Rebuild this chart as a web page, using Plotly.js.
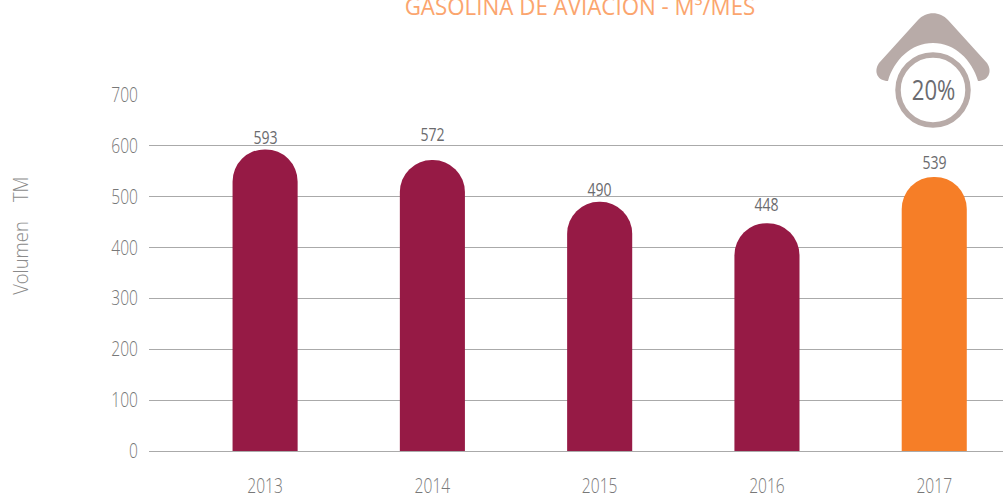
<!DOCTYPE html>
<html><head><meta charset="utf-8">
<script src="https://cdn.plot.ly/plotly-3.0.1.min.js"></script>
<style>html,body{margin:0;padding:0;background:#fff}#c{width:1003px;height:496px}</style>
</head><body><div id="c"></div>
<script>
const years = ['2013','2014','2015','2016','2017'];
const volumes = [593,572,490,448,539];
const barColors = ['#961a45','#961a45','#961a45','#961a45','#f67e27'];
const labelShifts = [-2,12,-1,5,1];
const yTicks = [0,100,200,300,400,500,600,700];
const FONT = '"Open Sans",sans-serif';

const W=1003,H=496,mL=149,mR=0,mT=95,mB=45;
const px=x=>(x-mL)/(W-mL-mR);
const py=y=>(H-mB-y)/(H-mT-mB);
const roof=[
 ['M',879,63],['L',918,20],['C',926,11,940,11,948,20],
 ['L',987,63],['C',993,72,988,81,978,81],['C',972,60,955,43,933,43],
 ['C',911,43,894,60,888,81],['C',878,81,873,72,879,63]
];
const roofPath=roof.map(s=>{
  const pts=[];for(let i=1;i<s.length;i+=2)pts.push(px(s[i])+','+py(s[i+1]));
  return s[0]+' '+pts.join(' ');
}).join(' ')+' Z';

const data=[{type:'bar',x:years,y:volumes,width:0.389,
  marker:{color:barColors,cornerradius:32,line:{width:0}},
  hoverinfo:'x+y',showlegend:false}];

const annotations=years.map((yr,i)=>({xref:'x',yref:'y',x:i,y:volumes[i],text:String(volumes[i]),showarrow:false,
  yanchor:'bottom',yshift:labelShifts[i],font:{family:FONT,size:18,weight:400,color:'#6b6b6e'}}));
annotations.push({xref:'paper',yref:'paper',x:px(20),y:py(236),text:'Volumen\u00a0\u00a0\u00a0\u00a0TM',textangle:-90,
  showarrow:false,xanchor:'center',yanchor:'middle',font:{family:FONT,size:20,weight:300,color:'#8a8a8a'}});
annotations.push({xref:'paper',yref:'paper',x:px(933),y:py(89),text:'20%',showarrow:false,
  xanchor:'center',yanchor:'middle',font:{family:FONT,size:27,weight:400,color:'#6b6b70'}});

const layout={
  width:W,height:H,margin:{l:mL,r:mR,t:mT,b:mB,pad:0},
  paper_bgcolor:'#fff',plot_bgcolor:'#fff',showlegend:false,
  title:{text:'GASOLINA DE AVIACION - M³/MES',x:580/W,xanchor:'center',y:1-6.5/H,yanchor:'middle',
    font:{family:FONT,size:24,weight:400,color:'#fba56e'}},
  xaxis:{type:'category',categoryorder:'array',categoryarray:years,range:[-0.694,4.411],
    tickfont:{family:FONT,size:20,weight:300,color:'#787878'},ticks:'',ticklabelstandoff:21,
    showgrid:false,zeroline:false,showline:false,fixedrange:true},
  yaxis:{range:[0,700],tickvals:yTicks,ticktext:yTicks.map(String),
    tickfont:{family:FONT,size:20,weight:300,color:'#787878'},ticks:'',ticklabelstandoff:10,
    showgrid:true,gridcolor:'#aaaaaa',gridwidth:1,zeroline:true,zerolinecolor:'#aaaaaa',zerolinewidth:1,
    showline:false,fixedrange:true},
  shapes:[
   {type:'path',xref:'paper',yref:'paper',path:roofPath,fillcolor:'#b8aba8',line:{width:0},layer:'above'},
   {type:'circle',xref:'paper',yref:'paper',x0:px(898),x1:px(968),y0:py(125),y1:py(55),
     fillcolor:'#ffffff',line:{color:'#b8aba8',width:5.5},layer:'above'}
  ],
  annotations
};
// The reference face is a condensed light sans: narrow the installed face to the same set width.
const narrow=(t,f)=>{
  const len=t.getComputedTextLength();
  t.setAttribute('lengthAdjust','spacingAndGlyphs');
  t.setAttribute('textLength',(len*f).toFixed(1));
};
Plotly.newPlot('c',data,layout,{displayModeBar:false,responsive:false}).then(gd=>{
  gd.querySelectorAll('.xtick text,.ytick text').forEach(t=>narrow(t,0.78));
  gd.querySelectorAll('.gtitle').forEach(t=>narrow(t,0.93));
  gd.querySelectorAll('.annotation-text').forEach(t=>{
    const s=t.textContent;
    narrow(t,s.startsWith('Volumen')?0.92:(s==='20%'?0.82:0.78));
  });
});
</script></body></html>
